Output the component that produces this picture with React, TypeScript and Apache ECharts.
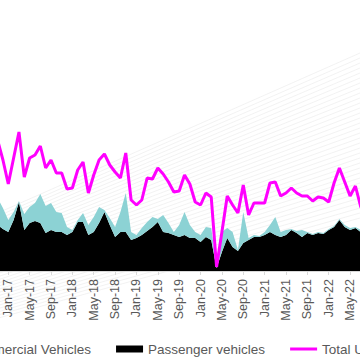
import React, { useEffect, useRef } from "react";
import * as echarts from "echarts";

const months = [
  "Nov-16", "Dec-16",
  "Jan-17", "Feb-17", "Mar-17", "Apr-17", "May-17", "Jun-17", "Jul-17", "Aug-17", "Sep-17", "Oct-17", "Nov-17", "Dec-17",
  "Jan-18", "Feb-18", "Mar-18", "Apr-18", "May-18", "Jun-18", "Jul-18", "Aug-18", "Sep-18", "Oct-18", "Nov-18", "Dec-18",
  "Jan-19", "Feb-19", "Mar-19", "Apr-19", "May-19", "Jun-19", "Jul-19", "Aug-19", "Sep-19", "Oct-19", "Nov-19", "Dec-19",
  "Jan-20", "Feb-20", "Mar-20", "Apr-20", "May-20", "Jun-20", "Jul-20", "Aug-20", "Sep-20", "Oct-20", "Nov-20", "Dec-20",
  "Jan-21", "Feb-21", "Mar-21", "Apr-21", "May-21", "Jun-21", "Jul-21", "Aug-21", "Sep-21", "Oct-21", "Nov-21", "Dec-21",
  "Jan-22", "Feb-22", "Mar-22", "Apr-22", "May-22", "Jun-22", "Jul-22", "Aug-22",
];

const passengerVehicles = [
  46, 42,
  39, 51, 69, 41, 48, 50, 48, 38, 41, 39, 39, 36,
  39, 49, 49, 36, 39, 48, 59, 46, 34, 39, 39, 31,
  33, 36, 40, 44, 49, 39, 38, 36, 34, 36, 33, 33,
  29, 34, 31, 3, 19, 33, 24, 20, 28, 31, 34, 34,
  36, 39, 36, 34, 36, 41, 38, 34, 38, 36, 38, 37,
  41, 44, 51, 44, 41, 43, 39, 40,
];

const commercialVehicles = [
  27, 21,
  12, 8, 1, 16, 16, 18, 29, 27, 27, 20, 19, 8,
  2, 2, 9, 10, 15, 16, 2, 7, 10, 20, 39, 8,
  3, 7, 9, 10, 3, 17, 10, 3, 12, 23, 13, 6,
  7, 10, 12, 1, 20, 10, 15, 1, 31, 2, 2, 1,
  3, 7, 18, 5, 5, 1, 2, 7, 1, 1, 1, 1,
  1, 1, 1, 2, 2, 1, 2, 2,
];

const totalUK = [
  131, 111,
  87, 113, 139, 94, 113, 116, 125, 103, 111, 98, 98, 82,
  83, 101, 109, 78, 96, 111, 117, 106, 99, 93, 118, 71,
  66, 71, 93, 92, 103, 97, 89, 79, 80, 96, 87, 69,
  66, 78, 74, 4, 39, 75, 66, 58, 86, 56, 68, 68,
  68, 88, 89, 75, 78, 83, 78, 75, 75, 70, 74, 73,
  69, 88, 103, 89, 75, 85, 64, 60,
];

const seriesNames = ["Commercial Vehicles", "Passenger vehicles", "Total UK"];
const labelMonths = ["Jan", "May", "Sep"];

const OFFSET = 120;
const CHART_W = 600;

export default function App() {
  const ref = useRef<HTMLDivElement>(null);

  useEffect(() => {
    if (!ref.current) return;
    const chart = echarts.init(ref.current, undefined, { renderer: "svg" });

    const bgLines: any[] = [];
    for (let i = 0; i < 34; i++) {
      bgLines.push({
        type: "line",
        silent: true,
        z: 0,
        shape: { x1: OFFSET + 0, y1: 212 + 3.2 * i, x2: OFFSET + 360, y2: 53 + 5 * i },
        style: { stroke: "#ececec", lineWidth: 0.7 },
      });
    }

    const showLabel = (_i: number, v: string) => labelMonths.indexOf(v.slice(0, 3)) >= 0;

    chart.setOption({
      animation: false,
      backgroundColor: "#ffffff",
      graphic: { elements: bgLines },
      legend: {
        left: 48,
        top: 337,
        itemWidth: 27,
        itemHeight: 7,
        itemGap: 25,
        textStyle: { color: "#595959", fontSize: 13.5, fontFamily: "Liberation Sans, Arial, sans-serif" },
        data: [
          { name: seriesNames[0], icon: "rect" },
          { name: seriesNames[1], icon: "rect" },
          { name: seriesNames[2], icon: "path://M0,0L27,0L27,3L0,3Z" },
        ],
      },
      grid: { left: 117.6, right: 113.9, top: 21, bottom: 89 },
      xAxis: {
        type: "category",
        data: months,
        boundaryGap: false,
        axisLine: { lineStyle: { color: "#d9d9d9", width: 1 } },
        axisTick: { show: true, interval: showLabel, length: 4, lineStyle: { color: "#d9d9d9" } },
        axisLabel: {
          interval: showLabel,
          rotate: 90,
          margin: 8,
          padding: [6, 0, 0, 0],
          color: "#595959",
          fontSize: 12.5,
          fontFamily: "Liberation Sans, Arial, sans-serif",
        },
        splitLine: { show: false },
      },
      yAxis: { type: "value", min: 0, max: 250, show: false },
      series: [
        {
          name: seriesNames[1],
          type: "line",
          stack: "vehicles",
          data: passengerVehicles,
          symbol: "none",
          lineStyle: { width: 0 },
          itemStyle: { color: "#000000" },
          areaStyle: { color: "#000000", opacity: 1 },
          z: 2,
        },
        {
          name: seriesNames[0],
          type: "line",
          stack: "vehicles",
          data: commercialVehicles,
          symbol: "none",
          lineStyle: { width: 0 },
          itemStyle: { color: "#8cd2d4" },
          areaStyle: { color: "#8cd2d4", opacity: 1 },
          z: 2,
        },
        {
          name: seriesNames[2],
          type: "line",
          data: totalUK,
          symbol: "none",
          lineStyle: { width: 3, color: "#ff00ff" },
          itemStyle: { color: "#ff00ff" },
          z: 3,
        },
      ],
    });

    return () => chart.dispose();
  }, []);

  return (
    <div style={{ position: "fixed", left: 0, top: 0, width: 360, height: 360, overflow: "hidden", background: "#fff" }}>
      <div ref={ref} style={{ position: "absolute", left: -OFFSET, top: 0, width: CHART_W, height: 360 }} />
    </div>
  );
}
